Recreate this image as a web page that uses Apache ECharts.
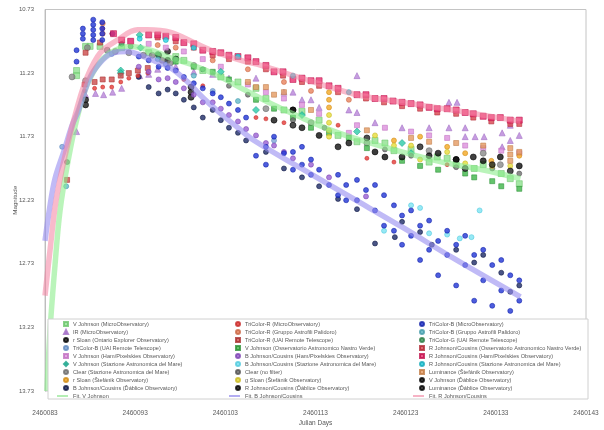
<!DOCTYPE html>
<html>
<head>
<meta charset="utf-8">
<script src="https://cdn.jsdelivr.net/npm/echarts@6/dist/echarts.min.js"></script>
<style>
  html, body { margin: 0; padding: 0; background: #ffffff; }
  #chart { width: 604px; height: 430px; }
</style>
</head>
<body>
<div id="chart"></div>
<script>
// Light curve: days counted from JD0, magnitudes as measured.
const JD0 = 2460083;
const MAG0 = 10.73;
const xTickLabels = ['2460083', '2460093', '2460103', '2460113', '2460123', '2460133', '2460143'];
const yTickLabels = ['10.73', '11.23', '11.73', '12.23', '12.73', '13.23', '13.73'];

// [day, magnitude] pairs per observer / filter
const vMicro = [[3.5,11.21],[3.5,11.25],[4.5,11.02],[5.0,11.02],[6.1,11.02],[8.5,11.03],[11.5,11.07],[14.5,11.10],[15.4,11.13],[17.5,11.21],[19.5,11.26],[21.4,11.30],[23.4,11.35],[24.5,11.43],[26.5,11.52],[28.5,11.53],[30.4,11.60],[32.5,11.72],[34.6,11.77],[36.6,11.76],[37.7,11.78],[38.7,11.84],[40.6,11.83],[42.6,11.93],[43.5,11.89],[44.6,11.90],[45.6,11.95],[47.6,11.98],[48.6,11.95],[50.6,12.02],[51.6,12.06],[52.6,12.10]];
const irMicro = [[3.5,11.69],[4.5,11.40],[5.6,11.39],[6.5,11.40],[7.5,11.38],[8.5,11.35],[10.5,11.25],[11.5,11.24],[12.5,11.20],[14.5,11.18],[16.5,11.22],[18.6,11.24],[20.4,11.27],[23.4,11.27],[26.5,11.38],[27.5,11.38],[28.5,11.44],[29.5,11.44],[30.4,11.50],[33.7,11.52],[34.6,11.25],[34.6,11.54],[36.6,11.62],[39.6,11.66],[42.6,11.66],[44.8,11.46],[45.7,11.46],[44.8,11.66],[46.6,11.66],[46.6,11.73],[47.7,11.73],[48.7,11.73],[50.7,11.70],[50.7,11.81],[51.6,11.64],[51.6,11.76],[52.6,11.72]];
const rSloanOntario = [[4.5,11.44],[4.5,11.48],[12.6,11.09],[13.6,11.06],[13.6,11.13],[14.5,11.12],[16.2,11.34],[16.2,11.38],[16.2,11.42],[27.5,11.52],[45.6,11.91]];
const triBUai = [[1.9,11.81],[7.4,11.08],[13.4,11.16],[18.6,11.37],[25.4,11.76]];
const vHam = [[9.5,10.98],[11.5,11.00],[13.4,11.03],[15.4,11.06],[17.5,11.12],[19.5,11.18],[22.5,11.32],[24.5,11.38],[26.5,11.43],[28.5,11.48],[30.4,11.55],[33.7,11.70],[34.6,11.64],[37.7,11.66],[40.6,11.69],[42.6,11.72],[44.6,11.74],[46.6,11.80],[48.6,11.82],[50.6,11.84],[52.6,11.86]];
const vStazione = [[8.4,11.21],[8.4,11.23],[10.5,10.93],[10.6,11.03],[19.5,11.22],[23.4,11.52],[28.5,11.56],[34.6,11.69],[39.6,11.78],[40.6,11.86]];
const clearStazione = [[3.0,11.26],[4.5,11.29],[4.7,11.03],[6.9,11.05],[7.8,11.06],[9.3,11.07],[10.9,11.09],[11.9,11.09],[13.0,11.13],[13.9,11.15],[16.5,11.17],[24.5,11.51],[29.5,11.62],[35.7,11.78],[42.6,11.84],[48.6,11.86],[50.5,11.95]];
const rSloanStefanik = [[31.5,11.38],[31.5,11.44],[31.5,11.50],[38.7,11.76],[41.6,11.73],[44.6,11.81],[46.6,11.86],[49.5,11.92],[52.6,11.88]];
const bDablice = [[10.4,11.26],[11.5,11.34],[12.6,11.39],[13.6,11.36],[14.5,11.39],[15.4,11.44],[16.5,11.50],[17.5,11.58],[18.6,11.52],[19.5,11.60],[20.4,11.66],[21.4,11.70],[22.3,11.76],[24.5,11.85],[26.5,11.98],[28.5,12.05],[30.4,12.12],[32.5,12.22],[34.6,12.30],[36.6,12.57],[38.8,12.52],[39.6,12.40],[41.6,12.48],[42.9,12.58],[45.6,12.62],[47.6,12.72],[48.6,12.66],[50.6,12.80],[51.6,12.95],[52.6,12.90]];
const triRMicro = [[4.4,11.37],[5.5,11.35],[6.4,11.34],[7.4,11.34],[8.4,11.30],[9.3,11.27],[10.3,11.25],[11.4,11.23],[6.4,10.88],[7.4,10.92],[15.4,11.28],[17.5,11.33],[23.4,11.58],[24.5,11.59],[26.5,11.62],[32.5,11.64],[35.7,11.90],[38.7,11.93],[44.6,11.95]];
const triRGruppo = [[6.4,10.84],[6.4,10.92],[12.5,11.01],[14.5,11.03],[18.6,11.13],[22.5,11.20],[26.5,11.30],[29.5,11.37],[33.7,11.44]];
const triRUai = [[2.45,12.07],[4.4,11.32],[4.5,11.07],[5.5,11.30],[6.1,10.99],[6.4,11.28],[7.4,11.28],[8.4,11.25],[9.3,11.23],[10.3,11.21],[11.4,11.19]];
const vNastroVerde = [[14.5,11.14],[16.5,11.18],[18.6,11.22],[20.4,11.28],[23.4,11.44],[25.4,11.51],[27.5,11.58],[29.5,11.66],[31.5,11.70],[33.7,11.74],[35.7,11.82],[39.6,11.92],[41.6,11.96],[43.6,11.99],[46.6,12.02],[47.6,12.05],[49.6,12.08],[50.6,12.12],[52.6,12.14]];
const bHam = [[10.4,11.18],[11.5,11.22],[12.6,11.28],[13.6,11.27],[14.5,11.30],[15.4,11.35],[16.5,11.40],[17.5,11.46],[18.6,11.46],[19.5,11.51],[20.4,11.56],[21.4,11.61],[22.3,11.67],[23.4,11.72],[24.5,11.78],[25.4,11.80],[26.5,11.85],[27.5,11.90],[29.5,11.95],[31.5,12.05],[35.6,12.20]];
const bStazione = [[37.6,12.47],[40.6,12.27],[41.6,12.29],[42.6,12.49],[44.6,12.50],[46.0,12.53],[47.3,12.52],[48.2,12.31]];
const clearNoFilter = [[2.45,11.93],[20.4,11.33],[22.5,11.40],[27.5,11.60],[31.0,11.66],[37.7,11.83],[40.6,11.88],[45.6,11.97],[49.6,11.98],[52.6,12.02]];
const gSloanStefanik = [[31.5,11.56],[31.5,11.62],[31.5,11.68],[31.5,11.73],[36.6,11.72],[38.7,11.80],[40.6,11.80],[41.6,11.91],[44.6,11.85],[46.6,11.94],[49.6,11.96],[51.6,11.96]];
const rDablice = [[25.4,11.60],[28.5,11.66],[32.5,11.81],[33.7,11.78],[39.6,11.89],[43.6,11.86],[47.5,11.89]];
const triBMicro = [[3.5,11.05],[3.5,11.14],[4.2,10.88],[4.2,10.92],[4.2,10.96],[5.35,10.81],[5.35,10.85],[5.35,10.89],[5.35,10.93],[5.35,10.97],[6.35,10.83],[6.35,10.88],[6.35,10.92],[6.35,10.97],[7.5,10.92],
  [10.4,11.10],[11.5,11.13],[12.6,11.18],[13.6,11.19],[14.5,11.21],[15.4,11.26],[16.5,11.31],[17.5,11.35],[18.6,11.39],[19.5,11.42],[20.4,11.47],[21.4,11.52],[22.3,11.58],[23.4,11.88],[24.5,11.81],[24.5,11.95],[25.4,11.73],[26.5,11.86],[27.5,11.85],[27.5,11.99],[28.5,11.81],[28.5,11.95],[29.5,11.91],[29.5,12.03],[30.4,11.99],[31.5,12.11],[32.5,12.03],[32.5,12.19],[33.4,12.11],[33.4,12.23],
  [34.6,12.07],[34.6,12.23],[35.6,12.15],[36.6,12.11],[36.6,12.31],[37.6,12.19],[37.6,12.43],[38.7,12.27],[38.7,12.47],[39.6,12.35],[39.6,12.58],[40.6,12.31],[40.6,12.51],[41.6,12.43],[41.6,12.70],[42.6,12.39],[42.6,12.62],[43.6,12.55],[43.6,12.82],[44.6,12.47],[44.6,12.66],[45.6,12.58],[45.6,12.90],[46.6,12.51],[46.6,12.74],[47.6,12.66],[47.6,13.02],[48.6,12.62],[48.6,12.86],[49.6,12.74],[49.6,13.06],[50.6,12.70],[50.6,12.94],[51.6,12.82],[51.6,13.10],[52.6,12.86],[52.6,13.02]];
const triBGruppo = [[2.35,12.12],[12.5,11.12],[16.5,11.25],[21.4,11.45]];
const triGUai = [[8.5,11.00],[9.5,11.02],[12.5,11.08],[14.5,11.12],[17.5,11.20]];
const rNastroVerde = [[12.5,10.95],[14.5,10.98],[16.5,11.03],[18.6,11.09],[20.4,11.12],[22.5,11.14],[24.5,11.20],[26.4,11.25],[28.5,11.30],[30.4,11.33],[32.5,11.38],[35.6,11.43],[37.6,11.46],[39.6,11.49],[41.6,11.51],[43.5,11.54],[45.6,11.55],[47.5,11.58],[49.5,11.61],[51.6,11.63],[52.6,11.63]];
const rHam = [[7.6,10.92],[8.5,10.97],[9.5,10.98],[11.5,10.93],[12.5,10.93],[13.4,10.94],[14.5,10.95],[15.4,10.99],[16.5,11.00],[17.5,11.05],[18.6,11.06],[19.5,11.07],[20.4,11.09],[21.4,11.10],[22.5,11.11],[23.4,11.14],[24.5,11.17],[25.4,11.22],[26.4,11.22],[27.5,11.28],[28.5,11.27],[29.5,11.29],[30.4,11.29],[31.5,11.33],[32.5,11.35],[34.6,11.40],[35.6,11.40],[36.6,11.43],[37.6,11.43],[38.6,11.45],[39.6,11.46],[40.6,11.47],[41.6,11.48],[42.6,11.50],[43.5,11.51],[44.6,11.51],[45.6,11.52],[46.6,11.54],[47.5,11.55],[48.6,11.57],[49.5,11.58],[50.5,11.58],[51.6,11.60],[52.6,11.60]];
const rStazione = [[10.5,10.96],[13.4,10.97],[16.5,11.03],[21.4,11.10],[27.5,11.25],[33.7,11.38]];
const lumStefanik = [[22.5,11.30],[23.4,11.34],[24.5,11.34],[25.4,11.40],[26.5,11.38],[29.5,11.52],[35.7,11.68],[40.6,11.74],[42.6,11.77],[45.6,11.78],[48.6,11.80],[51.6,11.82],[51.6,11.87],[51.6,11.92],[52.6,11.85]];
const vDablice = [[27.5,11.52],[30.4,11.72],[36.6,11.85],[37.7,11.89],[42.6,11.88],[45.6,11.91],[48.6,11.92],[50.5,11.89],[52.6,11.96]];
const lumDablice = [[27.5,11.64],[35.7,11.74],[41.6,11.81],[46.6,11.98],[49.6,11.95],[51.6,12.00]];

// Fitted curves
const fitV = [[0.22,13.73],[0.56,13.25],[1.11,12.74],[1.67,12.31],[2.56,11.92],[3.57,11.58],[4.68,11.32],[6.13,11.14],[7.8,11.05],[9.48,11.02],[11.71,11.05],[13.94,11.11],[16.5,11.17],[19.17,11.25],[22.07,11.36],[25.08,11.47],[28.43,11.58],[31.77,11.68],[35.12,11.76],[39.58,11.85],[44.04,11.93],[48.49,11.99],[52.73,12.06]];
const fitB = [[0,12.55],[0.56,12.27],[1.11,12.06],[2.12,11.84],[3.01,11.64],[3.68,11.53],[5.02,11.26],[6.35,11.13],[7.58,11.07],[9.14,11.06],[10.59,11.09],[12.04,11.13],[13.94,11.19],[15.83,11.30],[17.61,11.43],[19.51,11.55],[21.40,11.66],[23.19,11.76],[28.43,11.98],[34.0,12.21],[39.58,12.44],[45.15,12.68],[52.73,12.99]];
const fitR = [[0,12.98],[0.56,12.62],[1.23,12.23],[2.45,11.81],[3.57,11.50],[4.68,11.26],[6.13,11.07],[8.03,10.97],[10.26,10.89],[11.37,10.89],[13.94,10.91],[16.5,10.99],[18.73,11.06],[21.74,11.13],[23.97,11.17],[28.43,11.27],[34.56,11.40],[39.58,11.46],[45.15,11.52],[52.73,11.61]];

// Marker styling per series, in legend order (three columns)
const markerDefs = [
  ['V Johnson (MicroObservatory)', vMicro, 'rect', 6, 'rgba(130,222,130,0.9)', '#6cc46c'],
  ['IR (MicroObservatory)', irMicro, 'triangle', 6, '#b884d8', '#a06cc4'],
  ['r Sloan (Ontario Explorer Observatory)', rSloanOntario, 'circle', 6, '#1a1a1a', '#000000'],
  ['TriColor-B (UAI Remote Telescope)', triBUai, 'circle', 5, '#7ea6d8', '#5c86bc'],
  ['V Johnson (Ham/Pixelskies Observatory)', vHam, 'rect', 5, '#dc90dc', '#c070c0'],
  ['V Johnson (Stazione Astronomica del Mare)', vStazione, 'diamond', 7, '#2ccaa8', '#1aa088'],
  ['Clear (Stazione Astronomica del Mare)', clearStazione, 'circle', 6, '#8a8a8a', '#6a6a6a'],
  ['r Sloan (Štefánik Observatory)', rSloanStefanik, 'circle', 5, '#f2a823', '#d08a10'],
  ['B Johnson/Cousins (Ďáblice Observatory)', bDablice, 'circle', 5, '#1d2a66', '#0d1540'],
  ['TriColor-R (MicroObservatory)', triRMicro, 'circle', 4, '#e53935', '#c62828'],
  ['TriColor-R (Gruppo Astrofili Palidoro)', triRGruppo, 'circle', 5, '#e8825c', '#c86440'],
  ['TriColor-R (UAI Remote Telescope)', triRUai, 'rect', 5, '#cc4a4a', '#a83030'],
  ['V Johnson (Osservatorio Astronomico Nastro Verde)', vNastroVerde, 'rect', 5, '#3fb548', '#2a9034'],
  ['B Johnson/Cousins (Ham/Pixelskies Observatory)', bHam, 'circle', 5, '#9a60d2', '#7a40b2'],
  ['B Johnson/Cousins (Stazione Astronomica del Mare)', bStazione, 'circle', 5, '#7de3f3', '#4cc8dc'],
  ['Clear (no filter)', clearNoFilter, 'circle', 5, '#6e6e6e', '#505050'],
  ['g Sloan (Štefánik Observatory)', gSloanStefanik, 'circle', 5, '#e6dc3a', '#c8b820'],
  ['R Johnson/Cousins (Ďáblice Observatory)', rDablice, 'circle', 6, '#111111', '#000000'],
  ['TriColor-B (MicroObservatory)', triBMicro, 'circle', 5, '#2035d4', '#1020a8'],
  ['TriColor-B (Gruppo Astrofili Palidoro)', triBGruppo, 'circle', 5, '#63b9c9', '#4098a8'],
  ['TriColor-G (UAI Remote Telescope)', triGUai, 'circle', 5, '#3f9e5e', '#2a7a44'],
  ['R Johnson/Cousins (Osservatorio Astronomico Nastro Verde)', rNastroVerde, 'rect', 5, '#d9434e', '#b02a36'],
  ['R Johnson/Cousins (Ham/Pixelskies Observatory)', rHam, 'rect', 6, '#e8306e', '#c0104c'],
  ['R Johnson/Cousins (Stazione Astronomica del Mare)', rStazione, 'circle', 5, '#27d3e3', '#10a8b8'],
  ['Luminance (Štefánik Observatory)', lumStefanik, 'rect', 5, '#e39a62', '#c07a44'],
  ['V Johnson (Ďáblice Observatory)', vDablice, 'circle', 6, '#0a0a0a', '#000000'],
  ['Luminance (Ďáblice Observatory)', lumDablice, 'circle', 6, '#222222', '#000000']
];
const fitDefs = [
  ['Fit. V Johnson', fitV, 'rgba(140,236,140,0.6)', '#9be89b'],
  ['Fit. B Johnson/Cousins', fitB, 'rgba(150,140,240,0.6)', '#9a92ee'],
  ['Fit. R Johnson/Cousins', fitR, 'rgba(244,130,160,0.55)', '#f39ab2']
];

const toAxis = pts => pts.map(p => [p[0], +(p[1] - MAG0).toFixed(3)]);

const series = markerDefs.map(d => ({
  name: d[0], type: 'scatter', data: toAxis(d[1]),
  symbol: d[2], symbolSize: d[3], z: 2,
  itemStyle: { color: d[4], borderColor: d[5], borderWidth: 0.7 }
})).concat(fitDefs.map(d => ({
  name: d[0], type: 'line', data: toAxis(d[1]),
  smooth: 0.35, symbol: 'none', z: 3,
  lineStyle: { width: 5.5, color: d[2] },
  itemStyle: { color: d[3] }
})));

const font = 'Liberation Sans';
const names = markerDefs.map(d => d[0]);
const legendText = { fontSize: 5.6, color: '#595959', fontFamily: font, lineHeight: 8 };
const colLeft = [63, 235, 419];
const legends = [];
for (let c = 0; c < 3; c++) {
  legends.push({
    data: names.slice(c * 9, c * 9 + 9), orient: 'vertical', padding: 0,
    left: colLeft[c], top: 320, itemWidth: 4, itemHeight: 4, itemGap: 0,
    selectedMode: false, z: 6, textStyle: legendText
  });
  legends.push({
    data: [{ name: fitDefs[c][0], icon: 'rect' }], orient: 'vertical', padding: 0,
    left: colLeft[c] - 6, top: 392, itemWidth: 11, itemHeight: 1.5, itemGap: 0,
    selectedMode: false, z: 6, textStyle: legendText
  });
}

const chart = echarts.init(document.getElementById('chart'), null, { renderer: 'canvas' });
chart.setOption({
  animation: false,
  backgroundColor: '#ffffff',
  textStyle: { fontFamily: font },
  grid: {
    left: 45, right: 18, top: 9.5, bottom: 39,
    containLabel: false, outerBoundsMode: 'none',
    show: true, borderColor: '#c4c4c4', borderWidth: 1
  },
  xAxis: {
    type: 'value', min: 0, max: 60, interval: 10,
    name: 'Julian Days', nameLocation: 'middle', nameGap: 29, nameMoveOverlap: false,
    nameTextStyle: { fontSize: 6.5, color: '#595959', fontFamily: font },
    axisLine: { show: false }, axisTick: { show: false }, splitLine: { show: false },
    axisLabel: { margin: 19, fontSize: 6.5, color: '#595959', fontFamily: font,
      formatter: v => xTickLabels[Math.round(v / 10)] }
  },
  yAxis: {
    type: 'value', min: 0, max: 3, interval: 0.5, inverse: true,
    name: 'Magnitude', nameLocation: 'middle', nameGap: 27, nameMoveOverlap: false,
    nameTextStyle: { fontSize: 6.2, color: '#595959', fontFamily: font },
    axisLine: { show: true, lineStyle: { color: '#bdbdbd' } },
    axisTick: { show: false }, splitLine: { show: false },
    axisLabel: { margin: 11, fontSize: 6, color: '#595959', fontFamily: font,
      formatter: v => yTickLabels[Math.round(v / 0.5)] }
  },
  legend: legends,
  graphic: [{
    type: 'rect', z: 5, silent: true,
    shape: { x: 48, y: 319, width: 540, height: 80 },
    style: { fill: '#ffffff', stroke: '#d0d0d0', lineWidth: 1 }
  }],
  series: series
});
</script>
</body>
</html>
